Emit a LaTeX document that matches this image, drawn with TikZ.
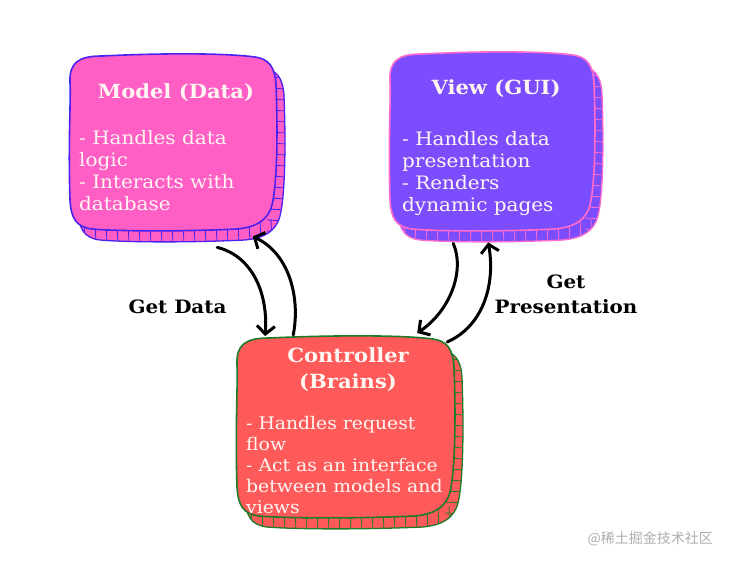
\documentclass[tikz,border=0pt]{standalone}
\usepackage{fontspec}
\setmainfont{DejaVu Serif}[FakeStretch=1.08]
\newfontfamily\cjk{Noto Sans CJK SC}
\usetikzlibrary{arrows.meta,calc}
\definecolor{mfill}{HTML}{FF5EC4}
\definecolor{mdraw}{HTML}{4A22F0}
\definecolor{vfill}{HTML}{7C4DFF}
\definecolor{vdraw}{HTML}{FF6ACB}
\definecolor{cfill}{HTML}{FF5A5A}
\definecolor{cdraw}{HTML}{1E7B2A}
\definecolor{wtext}{HTML}{FFF6F2}
\tikzset{
  blob/.style n args={4}{insert path={
    (#1,{#2+28}) .. controls ({#1-1},{#2+8}) and ({#1+8},{#2+1}) .. ({#1+32},{#2+1})
    .. controls ({#1+0.45*(#3-#1)},{#2-2}) and ({#3-50},{#2-2}) .. ({#3-20},{#2+2})
    .. controls ({#3-6},{#2+4}) and ({#3},{#2+12}) .. ({#3+1},{#2+30})
    .. controls ({#3+3},{#2+0.45*(#4-#2)}) and ({#3+2},{#4-45}) .. ({#3-3},{#4-25})
    .. controls ({#3-7},{#4-10}) and ({#3-18},{#4-3}) .. ({#3-38},{#4-1})
    .. controls ({#3-0.5*(#3-#1)},{#4+2}) and ({#1+45},{#4+1}) .. ({#1+22},{#4-1})
    .. controls ({#1+6},{#4-3}) and ({#1+1},{#4-12}) .. (#1,{#4-30})
    .. controls ({#1-2},{#4-0.5*(#4-#2)}) and ({#1+1},{#2+45}) .. cycle}},
  frame/.style={inner sep=0pt, anchor=north west},
  title/.style={text=wtext, font=\bfseries\fontsize{19.5}{26}\selectfont, align=center, anchor=base},
  body/.style={text=wtext, font=\fontsize{18.5}{21.7}\selectfont, align=left, anchor=base west, inner sep=0pt},
  lbl/.style={text=black, font=\bfseries\fontsize{18.4}{25}\selectfont, align=center, anchor=base, inner sep=0pt},
  flow/.style={line width=3pt, line cap=round, -{Straight Barb[length=8pt,width=18pt]}}
}
\newcommand\depthbox[7]{%
  \begin{scope}[shift={(8,11)}]
    \fill[#6, blob={#2}{#3}{#4}{#5}];
    \begin{scope}
      \clip[blob={#2}{#3}{#4}{#5}];
      \foreach \t in {14,25,...,300}{\draw[#7,line width=0.8pt] (#2+\t-8,#5-22) -- (#2+\t-7,#5+4);}
      \foreach \t in {22,33,...,250}{\draw[#7,line width=0.8pt] (#4-16,#3+\t-11) -- (#4+4,#3+\t-10);}
    \end{scope}
    \draw[#7, line width=1.3pt, blob={#2}{#3}{#4}{#5}];
  \end{scope}
  \draw[#7, fill=#6, line width=1.6pt, blob={#2}{#3}{#4}{#5}];
  \node[frame, minimum width=#4-#2, minimum height=#5-#3] (#1) at (#2,#3) {};
}
\begin{document}
\begin{tikzpicture}[x=1pt,y=-1pt]
\useasboundingbox (0,0) rectangle (730,564);

\depthbox{model}{70}{55}{275}{230}{mfill}{mdraw}
\depthbox{view}{390}{53}{593}{230}{vfill}{vdraw}
\depthbox{ctrl}{237}{337}{453}{517}{cfill}{cdraw}

\node[title] (mtitle) at (176,99) {Model (Data)};
\node[body] (mbody) at (79,210) {- Handles data\\logic\\- Interacts with\\database};

\node[title] (vtitle) at (496,95) {View (GUI)};
\node[body] (vbody) at (402,211) {- Handles data\\presentation\\- Renders\\dynamic pages};

\node[title] (ctitle) at (348,388) {Controller\\(Brains)};
\node[body, font=\fontsize{17.4}{21}\selectfont] (cbody) at (246,513) {- Handles request\\flow\\- Act as an interface\\between models and\\views};

\draw[flow] ($(model.south)+(44.5,17)$) .. controls +(33,8) and +(3,-46) .. ($(ctrl.north)+(-80,-1)$);
\draw[flow] ($(ctrl.north)+(-52,-2)$) .. controls +(7,-35) and +(38,18) .. ($(model.south)+(80,6)$);
\draw[flow] ($(view.south)+(-38.5,13)$) .. controls +(12,27) and +(33,-22) .. ($(ctrl.north)+(72,-4)$);
\draw[flow] ($(ctrl.north)+(102,5)$) .. controls +(38,-17) and +(7,39) .. ($(view.south)+(-3.5,12)$);

\node[lbl] (gd) at (177.5,313) {Get Data};
\node[lbl] (gp) at (566,313) {Get\\Presentation};

\node[text=black!32, anchor=east, font=\cjk\fontsize{14}{14}\selectfont, inner sep=0pt] (wm) at (713,539) {@稀土掘金技术社区};
\end{tikzpicture}
\end{document}
